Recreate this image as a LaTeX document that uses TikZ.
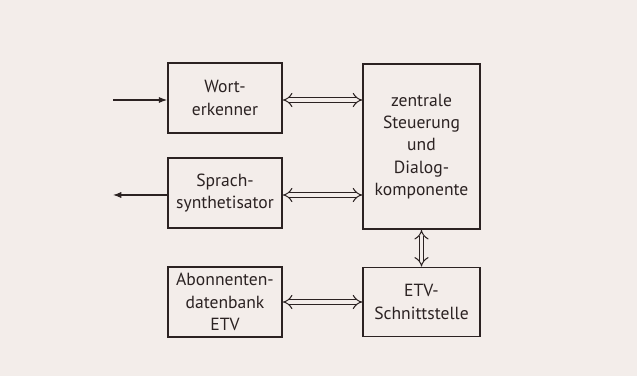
\documentclass[tikz,border=0pt]{standalone}
\usepackage{fontspec}
\setmainfont{PT Sans}
\usetikzlibrary{arrows.meta}
\definecolor{paper}{HTML}{F3EDEA}
\definecolor{ink}{HTML}{2B2222}
\begin{document}
\begin{tikzpicture}[x=0.03cm, y=-0.03cm, font=\fontsize{15}{19}\selectfont, >=Latex,
  block/.style={draw=ink, line width=1.6pt, align=center, text=ink, inner sep=2pt},
  dbl/.style={draw=ink, double=paper, double distance=3.4pt, line width=0.85pt, {Implies}-{Implies}}]
  \fill[paper] (0,0) rectangle (637,376);
  \node[block, minimum width=3.42cm, minimum height=2.1cm] (wort) at (225,98) {Wort-\\erkenner};
  \node[block, minimum width=3.42cm, minimum height=2.1cm] (sprach) at (225,193) {Sprach-\\synthetisator};
  \node[block, minimum width=3.42cm, minimum height=2.1cm] (abo) at (225,302) {Abonnenten-\\datenbank\\ETV};
  \node[block, minimum width=3.5cm, minimum height=4.95cm] (zentral) at (421.5,146.5)
    {zentrale\\Steuerung\\und\\Dialog-\\komponente};
  \node[block, minimum width=3.5cm, minimum height=2.07cm] (etv) at (421.5,302) {ETV-\\Schnittstelle};
  \coordinate (ein) at (113,100);
  \coordinate (aus) at (113,195);
  \draw[ink, line width=0.9pt, ->] (ein) -- (wort.west |- ein);
  \draw[ink, line width=0.9pt, ->] (sprach.west |- aus) -- (aus);
  \draw[dbl] (wort.east |- ein) -- (zentral.west |- ein);
  \draw[dbl] (sprach.east |- aus) -- (zentral.west |- aus);
  \draw[dbl] (abo.east) -- (etv.west |- abo.east);
  \draw[dbl] (zentral.south) -- (etv.north);
\end{tikzpicture}
\end{document}
